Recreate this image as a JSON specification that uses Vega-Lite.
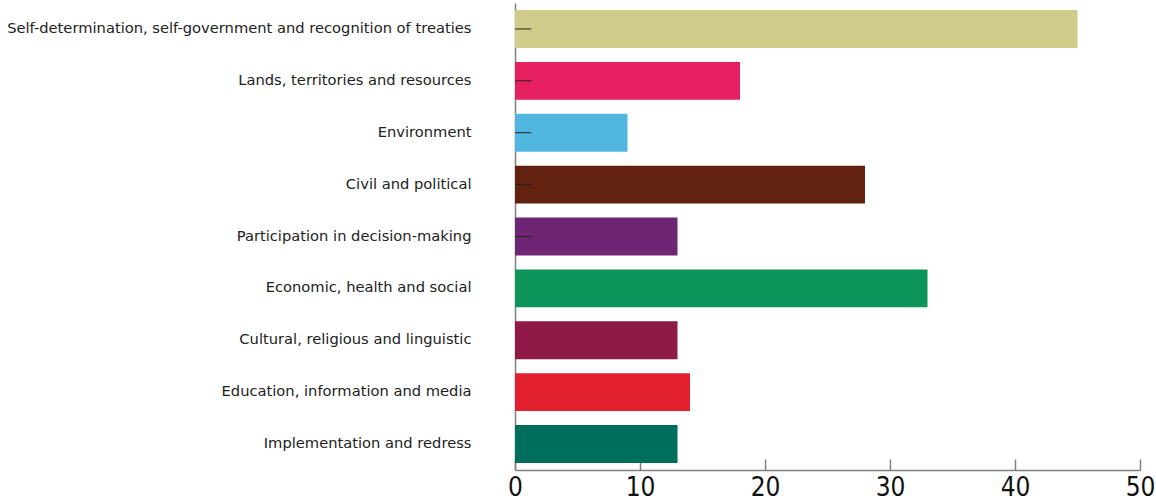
{
  "$schema": "https://vega.github.io/schema/vega-lite/v6.json",
  "autosize": "none",
  "width": 625,
  "height": 467,
  "padding": {"left": 515, "top": 3, "right": 16, "bottom": 34},
  "background": "white",
  "config": {"view": {"stroke": null}},
  "data": {
    "values": [
      {"category": "Self-determination, self-government and recognition of treaties", "count": 45, "order": 1},
      {"category": "Lands, territories and resources", "count": 18, "order": 2},
      {"category": "Environment", "count": 9, "order": 3},
      {"category": "Civil and political", "count": 28, "order": 4},
      {"category": "Participation in decision-making", "count": 13, "order": 5},
      {"category": "Economic, health and social", "count": 33, "order": 6},
      {"category": "Cultural, religious and linguistic", "count": 13, "order": 7},
      {"category": "Education, information and media", "count": 14, "order": 8},
      {"category": "Implementation and redress", "count": 13, "order": 9}
    ]
  },
  "encoding": {
    "y": {
      "field": "category",
      "type": "nominal",
      "sort": [
        "Self-determination, self-government and recognition of treaties",
        "Lands, territories and resources",
        "Environment",
        "Civil and political",
        "Participation in decision-making",
        "Economic, health and social",
        "Cultural, religious and linguistic",
        "Education, information and media",
        "Implementation and redress"
      ],
      "scale": {"paddingInner": 0.27, "paddingOuter": 0.135},
      "axis": {
        "title": null,
        "ticks": false,
        "labelPadding": 44,
        "labelFont": "DejaVu Sans",
        "labelFontSize": 14.7,
        "labelColor": "#222",
        "labelLimit": 600,
        "domainColor": "#808080",
        "domainWidth": 1.5
      }
    }
  },
  "layer": [
    {
      "mark": {"type": "bar"},
      "encoding": {
        "x": {
          "field": "count",
          "type": "quantitative",
          "scale": {"domain": [0, 50], "nice": false},
          "axis": {
            "title": null,
            "values": [0, 10, 20, 30, 40, 50],
            "grid": false,
            "tickSize": -11,
            "tickColor": "#808080",
            "tickWidth": 1.5,
            "domainColor": "#808080",
            "domainWidth": 1.5,
            "labelFont": "Liberation Sans Narrow, DejaVu Sans Condensed, sans-serif",
            "labelFontSize": 26,
            "labelColor": "#111",
            "labelPadding": 15,
            "labelFlush": false
          }
        },
        "color": {
          "field": "category",
          "type": "nominal",
          "sort": [
            "Self-determination, self-government and recognition of treaties",
            "Lands, territories and resources",
            "Environment",
            "Civil and political",
            "Participation in decision-making",
            "Economic, health and social",
            "Cultural, religious and linguistic",
            "Education, information and media",
            "Implementation and redress"
          ],
          "legend": null,
          "scale": {
            "range": ["#CFCB8A", "#E62060", "#52B7E0", "#63210F", "#6E2573", "#0D955B", "#8F1A47", "#E3202D", "#006E5C"]
          }
        }
      }
    },
    {
      "transform": [{"filter": "datum.order <= 5"}],
      "mark": {"type": "rule", "color": "#222", "strokeWidth": 1},
      "encoding": {
        "x": {"datum": 0},
        "x2": {"datum": 1.3}
      }
    }
  ]
}
